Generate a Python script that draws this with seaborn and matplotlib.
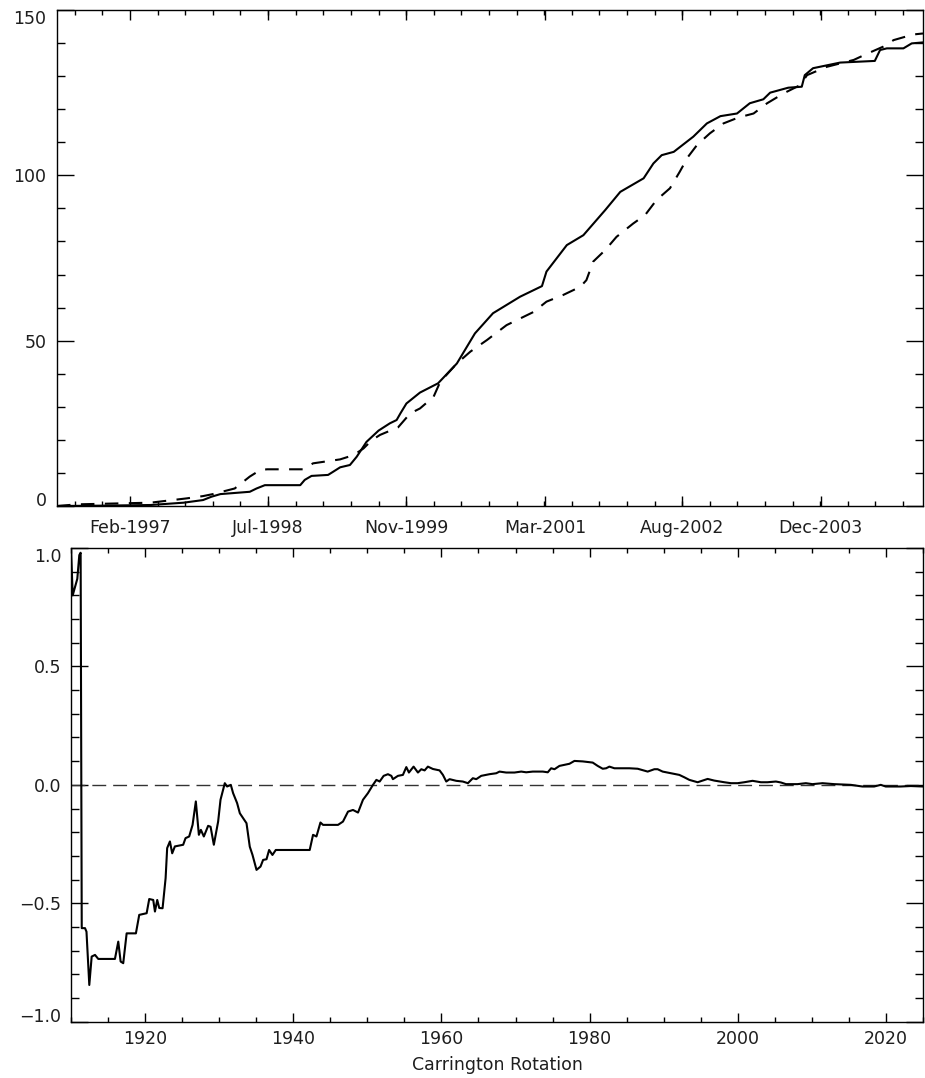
import numpy as np
import pandas as pd
import matplotlib
matplotlib.use("Agg")
import matplotlib.pyplot as plt
import seaborn as sns
from matplotlib.ticker import FixedLocator, MultipleLocator

# Cumulative event counts against Carrington rotation (solid series)
cr_solid = [1910.0, 1915.7, 1922.4, 1926.8, 1929.4, 1930.5, 1931.7, 1935.6, 1936.5, 1937.6,
            1942.3, 1942.9, 1943.8, 1946.0, 1946.7, 1947.6, 1948.9, 1949.8, 1951.1, 1952.7,
            1954.2, 1955.1, 1955.6, 1956.4, 1958.2, 1960.6, 1963.1, 1965.5, 1967.9, 1971.5,
            1974.4, 1975.0, 1977.7, 1979.9, 1982.8, 1984.8, 1987.9, 1989.2, 1990.3, 1991.9,
            1994.5, 1996.3, 1998.1, 2000.3, 2002.0, 2003.8, 2004.7, 2007.1, 2008.9, 2009.3,
            2010.4, 2014.0, 2018.6, 2019.3, 2020.2, 2022.4, 2023.5, 2025.0]
count_solid = [0.0, 0.1, 0.3, 1.0, 1.8, 2.8, 3.6, 4.3, 5.3, 6.3,
               6.3, 7.9, 9.1, 9.4, 10.4, 11.7, 12.4, 14.9, 19.4, 22.8,
               25.0, 26.0, 28.0, 31.0, 34.3, 37.1, 43.1, 52.2, 58.3, 63.3,
               66.5, 70.9, 78.9, 81.9, 89.5, 95.0, 99.1, 103.6, 106.1, 107.1,
               111.7, 115.7, 117.9, 118.7, 121.8, 123.0, 125.0, 126.5, 126.8, 130.3,
               132.4, 134.1, 134.6, 137.9, 138.4, 138.4, 139.9, 140.2]

# Cumulative event counts (dashed series)
cr_dashed = [1910.0, 1912.7, 1922.4, 1927.2, 1929.4, 1930.7, 1933.6, 1935.6, 1937.0, 1937.9,
             1942.7, 1944.0, 1947.6, 1949.4, 1950.7, 1951.8, 1952.9, 1955.3, 1956.9, 1958.2,
             1960.0, 1960.9, 1963.1, 1964.9, 1967.1, 1969.7, 1971.5, 1973.3, 1975.0, 1977.2,
             1979.5, 1980.3, 1981.2, 1982.8, 1984.3, 1986.5, 1988.1, 1989.6, 1991.4, 1992.7,
             1993.8, 1995.0, 1996.7, 1998.5, 2000.5, 2002.5, 2004.3, 2006.5, 2008.7, 2009.6,
             2012.2, 2015.8, 2017.5, 2019.7, 2021.1, 2023.7, 2025.0]
count_dashed = [0.0, 0.5, 1.0, 2.3, 3.0, 3.6, 5.3, 8.9, 10.9, 11.1,
                11.1, 12.9, 14.1, 15.4, 17.4, 19.9, 21.5, 23.8, 28.0, 29.5,
                33.0, 37.6, 43.1, 46.7, 50.2, 54.7, 56.7, 58.7, 61.8, 63.8,
                66.3, 68.3, 73.9, 77.4, 81.4, 85.4, 88.0, 92.5, 96.1, 101.1,
                105.6, 109.2, 112.7, 115.7, 117.5, 118.7, 121.8, 124.8, 127.3, 130.3,
                132.8, 134.9, 136.7, 138.9, 140.9, 142.6, 142.9]

# Normalised difference between the two series
cr_diff = [1910.0, 1910.23, 1910.85, 1911.12, 1911.3, 1911.45, 1911.89, 1912.09, 1912.47, 1912.79,
           1913.24, 1913.68, 1915.93, 1916.38, 1916.7, 1917.05, 1917.51, 1918.76, 1919.21, 1920.21,
           1920.56, 1921.1, 1921.33, 1921.64, 1921.91, 1922.36, 1922.77, 1922.98, 1923.35, 1923.66,
           1924.02, 1925.14, 1925.46, 1925.95, 1926.41, 1926.85, 1927.26, 1927.53, 1927.93, 1928.51,
           1928.84, 1929.28, 1929.86, 1930.18, 1930.76, 1931.07, 1931.57, 1931.88, 1932.42, 1932.79,
           1933.69, 1934.13, 1934.5, 1935.04, 1935.58, 1935.93, 1936.39, 1936.74, 1937.19, 1937.64,
           1942.22, 1942.67, 1943.13, 1943.67, 1944.02, 1946.04, 1946.71, 1947.39, 1948.06, 1948.74,
           1949.41, 1950.08, 1950.76, 1951.22, 1951.66, 1952.2, 1952.78, 1953.24, 1953.45, 1954.13,
           1954.8, 1955.26, 1955.61, 1956.24, 1956.83, 1957.28, 1957.73, 1958.17, 1958.85, 1959.75,
           1960.2, 1960.65, 1961.1, 1962.0, 1962.89, 1963.57, 1964.24, 1964.7, 1965.37, 1966.49,
           1967.4, 1967.84, 1968.74, 1969.86, 1970.77, 1971.44, 1972.33, 1973.68, 1974.35, 1974.81,
           1975.26, 1975.93, 1977.28, 1977.95, 1979.07, 1980.42, 1981.09, 1981.77, 1982.23, 1982.67,
           1983.35, 1984.46, 1985.37, 1986.49, 1987.84, 1988.74, 1989.18, 1989.86, 1990.99, 1992.11,
           1992.78, 1993.46, 1994.58, 1995.93, 1996.83, 1998.18, 1999.08, 1999.97, 2000.87, 2001.99,
           2003.12, 2004.01, 2005.15, 2005.82, 2006.5, 2008.06, 2009.19, 2010.08, 2011.43, 2013.01,
           2015.26, 2016.82, 2018.4, 2019.3, 2019.97, 2021.99, 2023.35, 2025.0]
diff = [1.0, 0.80, 0.87, 0.97, 0.98, -0.605, -0.605, -0.62, -0.845, -0.725,
        -0.718, -0.735, -0.735, -0.662, -0.746, -0.753, -0.627, -0.627, -0.549, -0.542,
        -0.482, -0.486, -0.535, -0.486, -0.52, -0.521, -0.394, -0.267, -0.239, -0.289,
        -0.26, -0.253, -0.225, -0.218, -0.169, -0.07, -0.211, -0.19, -0.218, -0.173,
        -0.177, -0.253, -0.155, -0.063, 0.007, -0.007, 0.0, -0.035, -0.077, -0.12,
        -0.162, -0.261, -0.296, -0.359, -0.345, -0.317, -0.314, -0.275, -0.296, -0.275,
        -0.275, -0.211, -0.218, -0.159, -0.169, -0.169, -0.155, -0.113, -0.106, -0.117,
        -0.063, -0.035, 0.0, 0.021, 0.014, 0.038, 0.045, 0.038, 0.024, 0.038,
        0.042, 0.075, 0.052, 0.077, 0.052, 0.066, 0.061, 0.077, 0.067, 0.061,
        0.042, 0.014, 0.024, 0.017, 0.014, 0.007, 0.028, 0.024, 0.038, 0.045,
        0.049, 0.056, 0.052, 0.052, 0.056, 0.053, 0.056, 0.056, 0.053, 0.07,
        0.066, 0.08, 0.089, 0.101, 0.099, 0.094, 0.08, 0.068, 0.07, 0.077,
        0.07, 0.07, 0.07, 0.068, 0.056, 0.066, 0.066, 0.056, 0.049, 0.042,
        0.032, 0.021, 0.011, 0.025, 0.018, 0.011, 0.007, 0.007, 0.011, 0.017,
        0.011, 0.011, 0.014, 0.01, 0.003, 0.003, 0.007, 0.003, 0.007, 0.003,
        0.0, -0.007, -0.007, 0.0, -0.007, -0.007, -0.005, -0.007]

# Calendar labels for the upper panel (every 500 days, in Carrington rotations)
date_tick_cr = [1919.7, 1938.0, 1956.4, 1974.8, 1993.0, 2011.4]
date_tick_labels = ["Feb-1997", "Jul-1998", "Nov-1999", "Mar-2001", "Aug-2002", "Dec-2003"]
date_minor_step = 500.0 / 27.2753 / 5.0

count_ticks = [0, 50, 100, 150]
count_tick_labels = ["0", "50", "100", "150"]
diff_ticks = [-1.0, -0.5, 0.0, 0.5, 1.0]
diff_tick_labels = ["\u22121.0", "\u22120.5", "0.0", "0.5", "1.0"]
cr_ticks = [1920, 1940, 1960, 1980, 2000, 2020]

sns.set_style("ticks")
plt.rcParams["font.family"] = ["DejaVu Sans"]
plt.rcParams["font.size"] = 12.5
plt.rcParams["axes.linewidth"] = 1.0
plt.rcParams["text.color"] = "#1e1e1e"
plt.rcParams["axes.labelcolor"] = "#1e1e1e"
plt.rcParams["xtick.labelcolor"] = "#1e1e1e"
plt.rcParams["ytick.labelcolor"] = "#1e1e1e"
plt.rcParams["xtick.color"] = "black"
plt.rcParams["ytick.color"] = "black"

fig = plt.figure(figsize=(9.25, 10.78), dpi=100)
W, H = 925.0, 1078.0
ax1 = fig.add_axes([57 / W, 1 - 506 / H, 866 / W, 496 / H])
ax2 = fig.add_axes([71 / W, 1 - 1021.7 / H, 852 / W, 473.7 / H])

df_solid = pd.DataFrame({"cr": cr_solid, "count": count_solid})
df_dashed = pd.DataFrame({"cr": cr_dashed, "count": count_dashed})
df_diff = pd.DataFrame({"cr": cr_diff, "diff": diff})

sns.lineplot(data=df_solid, x="cr", y="count", ax=ax1, color="black",
             linewidth=1.5, estimator=None, sort=False)
sns.lineplot(data=df_dashed, x="cr", y="count", ax=ax1, color="black",
             linewidth=1.5, estimator=None, sort=False, linestyle=(0, (6.5, 5)))

ax2.axhline(0.0, color="#333333", linewidth=1.0, linestyle=(0, (10, 5)))
sns.lineplot(data=df_diff, x="cr", y="diff", ax=ax2, color="black",
             linewidth=1.5, estimator=None, sort=False)

for ax in (ax1, ax2):
    ax.set_xlim(1910, 2025)
    ax.set_ylabel("")
    ax.set_xlabel("")
    for s in ax.spines.values():
        s.set_visible(True)
        s.set_color("black")

# Upper panel axes
ax1.set_ylim(0, 150)
ax1.yaxis.set_major_locator(FixedLocator(count_ticks))
ax1.set_yticklabels(count_tick_labels)
ax1.yaxis.set_minor_locator(MultipleLocator(10))
ax1.xaxis.set_major_locator(FixedLocator(date_tick_cr))
ax1.set_xticklabels(date_tick_labels)
minor_cr = date_tick_cr[0] + date_minor_step * np.arange(-3, 30)
ax1.xaxis.set_minor_locator(FixedLocator(minor_cr[(minor_cr > 1910) & (minor_cr < 2025)]))
ax1.tick_params(axis="x", which="major", direction="in", length=7.2, width=1.0,
                top=True, bottom=True, pad=9)
ax1.tick_params(axis="x", which="minor", direction="in", length=3.6, width=1.0,
                top=True, bottom=True)
ax1.tick_params(axis="y", which="major", direction="in", length=12, width=1.0,
                left=True, right=True, pad=7.5)
ax1.tick_params(axis="y", which="minor", direction="in", length=6, width=1.0,
                left=True, right=True)

# Lower panel axes
ax2.set_ylim(-1.0, 1.0)
ax2.yaxis.set_major_locator(FixedLocator(diff_ticks))
ax2.set_yticklabels(diff_tick_labels)
ax2.yaxis.set_minor_locator(MultipleLocator(0.1))
ax2.xaxis.set_major_locator(FixedLocator(cr_ticks))
ax2.set_xticklabels([str(t) for t in cr_ticks])
ax2.xaxis.set_minor_locator(MultipleLocator(5))
ax2.tick_params(axis="x", which="major", direction="in", length=6.5, width=1.0,
                top=True, bottom=True, pad=6)
ax2.tick_params(axis="x", which="minor", direction="in", length=3.6, width=1.0,
                top=True, bottom=True)
ax2.tick_params(axis="y", which="major", direction="in", length=12, width=1.0,
                left=True, right=True, pad=7)
ax2.tick_params(axis="y", which="minor", direction="in", length=6, width=1.0,
                left=True, right=True)
ax2.set_xlabel("Carrington Rotation", labelpad=6)

# Keep the outermost value labels inside the panel frame
for ax in (ax1, ax2):
    ticks = ax.yaxis.get_major_ticks()
    ticks[0].label1.set_verticalalignment("baseline")
    ticks[-1].label1.set_verticalalignment("top")

fig.savefig("out.png", dpi=100)
